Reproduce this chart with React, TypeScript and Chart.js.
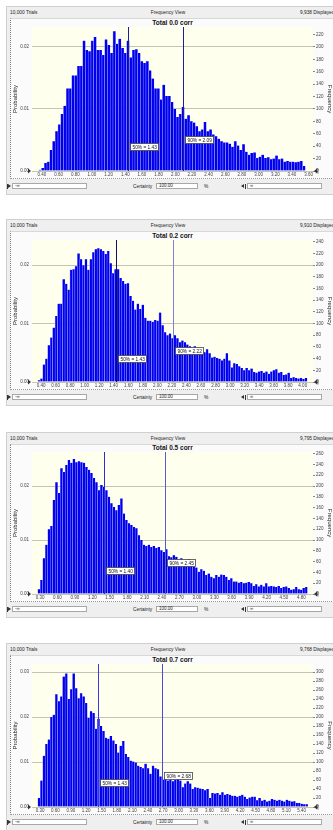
import React, { useEffect, useRef } from "react";
import { Chart, registerables } from "chart.js";

Chart.register(...registerables);
Chart.defaults.font.family = '"Liberation Sans", Arial, sans-serif';

const TRIALS = 10000;

const titles = ["Total 0.0 corr", "Total 0.2 corr", "Total 0.5 corr", "Total 0.7 corr"];
const trialsText = "10,000 Trials";
const viewText = "Frequency View";
const displayedText = ["9,938 Displayed", "9,910 Displayed", "9,795 Displayed", "9,768 Displayed"];

// Frequencies per bin
const freq00 = [
  2, 5, 13, 15, 34, 48, 64, 75, 92, 105,
  133, 133, 154, 154, 169, 169, 210, 195, 193, 210,
  216, 195, 195, 187, 212, 203, 190, 225, 205, 213,
  198, 190, 210, 183, 195, 196, 190, 177, 174, 177,
  162, 149, 133, 133, 115, 139, 121, 121, 111, 100,
  87, 92, 103, 84, 90, 80, 78, 72, 64, 67,
  79, 64, 67, 59, 56, 52, 48, 46, 46, 44,
  39, 48, 41, 34, 43, 31, 26, 29, 30, 21,
  23, 26, 21, 22, 19, 20, 25, 19, 20, 15,
  16, 15, 15, 14, 15, 16, 8,
];
const freq02 = [
  3, 6, 30, 40, 63, 76, 93, 113, 134, 134,
  176, 168, 158, 192, 193, 198, 220, 210, 200, 210,
  192, 210, 222, 227, 229, 227, 224, 219, 224, 203,
  186, 193, 193, 178, 173, 168, 169, 147, 139, 124,
  134, 125, 132, 110, 105, 105, 103, 106, 105, 119,
  97, 85, 80, 83, 75, 80, 75, 68, 71, 68,
  64, 61, 59, 61, 54, 51, 54, 51, 56, 49,
  42, 43, 41, 40, 37, 40, 49, 37, 25, 32,
  31, 27, 24, 20, 24, 20, 23, 17, 16, 18,
  19, 16, 18, 14, 18, 20, 22, 16, 17, 12,
  13, 16, 7, 8, 7, 6, 7, 5, 7,
];
const freq05 = [
  9, 26, 66, 91, 120, 126, 174, 207, 187, 233,
  226, 239, 248, 243, 250, 244, 246, 244, 243, 235,
  230, 224, 215, 207, 192, 202, 198, 192, 180, 168,
  161, 155, 165, 177, 149, 137, 131, 128, 124, 122,
  109, 100, 91, 89, 91, 87, 89, 85, 87, 81,
  78, 83, 70, 68, 72, 69, 63, 66, 60, 61,
  65, 57, 50, 49, 41, 46, 43, 35, 38, 32,
  29, 35, 32, 36, 35, 32, 26, 29, 23, 23,
  21, 22, 20, 21, 22, 20, 15, 18, 14, 17,
  14, 20, 14, 15, 14, 13, 15, 11, 13, 14,
  11, 8, 9, 13, 9, 8, 11, 13,
];
const freq07 = [
  20, 59, 114, 140, 150, 200, 205, 251, 235, 246,
  290, 297, 240, 262, 297, 264, 242, 253, 246, 231,
  198, 213, 209, 174, 196, 180, 169, 154, 152, 158,
  148, 140, 121, 136, 147, 118, 111, 103, 101, 99,
  92, 89, 86, 96, 86, 74, 92, 86, 84, 68,
  61, 66, 59, 61, 57, 60, 63, 59, 44, 52,
  57, 52, 40, 44, 43, 41, 40, 37, 40, 20,
  31, 30, 31, 27, 33, 27, 29, 27, 25, 25,
  23, 25, 27, 23, 18, 21, 23, 23, 15, 20,
  14, 16, 12, 14, 18, 16, 14, 16, 14, 12,
  16, 14, 12, 13, 9, 9, 7, 6, 6,
];
const FREQS = [freq00, freq02, freq05, freq07];

const binStart = [0.36, 0.355, 0.26, 0.256];
const binWidth = [0.033, 0.034, 0.043, 0.0483];

const xTicks00 = [0.4, 0.6, 0.8, 1.0, 1.2, 1.4, 1.6, 1.8, 2.0, 2.2, 2.4, 2.6, 2.8, 3.0, 3.2, 3.4, 3.6];
const xTicks02 = [0.4, 0.6, 0.8, 1.0, 1.2, 1.4, 1.6, 1.8, 2.0, 2.2, 2.4, 2.6, 2.8, 3.0, 3.2, 3.4, 3.6, 3.8, 4.0];
const xTicks05 = [0.3, 0.6, 0.9, 1.2, 1.5, 1.8, 2.1, 2.4, 2.7, 3.0, 3.3, 3.6, 3.9, 4.2, 4.5, 4.8];
const xTicks07 = [0.3, 0.6, 0.9, 1.2, 1.5, 1.8, 2.1, 2.4, 2.7, 3.0, 3.3, 3.6, 3.9, 4.2, 4.5, 4.8, 5.1, 5.4];
const XTICKS = [xTicks00, xTicks02, xTicks05, xTicks07];

const xMin = [0.28, 0.276, 0.162, 0.144];
const xMax = [3.653, 4.141, 5.0, 5.62];
const freqTop = [232, 243, 263, 318];

const probTicks00 = [0, 0.01, 0.02];
const probTicks02 = [0, 0.01, 0.02];
const probTicks05 = [0, 0.01, 0.02];
const probTicks07 = [0, 0.01, 0.02, 0.03];
const PROB_TICKS = [probTicks00, probTicks02, probTicks05, probTicks07];

const median = [1.43, 1.43, 1.4, 1.43];
const pct90 = [2.09, 2.22, 2.45, 2.68];

// layout (pixels)
const frameTop = [6, 219, 432, 643];
const plotTop = [27, 240, 452, 664];
const plotBottom = [171, 382, 594, 807];
const lineColor50 = ["#1c1c9c", "#101060", "#2a2ae0", "#3a3ae0"];
const lineColor90 = ["#1c1c9c", "#8080d8", "#5a5ad0", "#4a4ad8"];

const FONT = '"Liberation Sans", Arial, sans-serif';

function buildChart(canvas: HTMLCanvasElement, i: number) {
  const counts = FREQS[i];
  const points = counts.map((c, k) => ({ x: binStart[i] + (k + 0.5) * binWidth[i], y: c }));
  const decor = {
    id: "decor" + i,
    beforeDraw(chart: any) {
      const { ctx, chartArea: a } = chart;
      ctx.save();
      ctx.fillStyle = "#ffffee";
      ctx.fillRect(a.left, a.top, a.right - a.left, a.bottom - a.top);
      ctx.restore();
    },
    afterDatasetsDraw(chart: any) {
      const { ctx, chartArea: a, scales } = chart;
      const h = a.bottom - a.top;
      const marks = [
        { v: median[i], p: 50, color: lineColor50[i], frac: 0.835 },
        { v: pct90[i], p: 90, color: lineColor90[i], frac: 0.785 },
      ];
      ctx.save();
      marks.forEach((m) => {
        const px = Math.round(scales.x.getPixelForValue(m.v)) + 0.5;
        ctx.strokeStyle = m.color;
        ctx.lineWidth = 1;
        ctx.beginPath();
        ctx.moveTo(px, a.top);
        ctx.lineTo(px, a.bottom);
        ctx.stroke();
      });
      ctx.font = "4.8px " + FONT;
      ctx.textBaseline = "middle";
      ctx.textAlign = "left";
      marks.forEach((m) => {
        const px = scales.x.getPixelForValue(m.v);
        const text = `${m.p}% = ${m.v.toFixed(2)}`;
        const w = Math.round(ctx.measureText(text).width + 4);
        const bx = Math.round(px + 2) + 0.5;
        const cy = Math.round(a.top + h * m.frac);
        ctx.fillStyle = "#ffffff";
        ctx.fillRect(bx, cy - 3.5, w, 7);
        ctx.strokeStyle = "#444";
        ctx.lineWidth = 0.8;
        ctx.strokeRect(bx, cy - 3.5, w, 7);
        ctx.fillStyle = "#111";
        ctx.fillText(text, bx + 2, cy + 0.3);
      });
      ctx.restore();
    },
    afterDraw(chart: any) {
      const { ctx, chartArea: a } = chart;
      const mid = (a.top + a.bottom) / 2;
      ctx.save();
      ctx.fillStyle = "#222";
      ctx.font = "6px " + FONT;
      ctx.textAlign = "center";
      ctx.textBaseline = "middle";
      ctx.save();
      ctx.translate(15, mid);
      ctx.rotate(-Math.PI / 2);
      ctx.fillText("Probability", 0, 0);
      ctx.restore();
      ctx.save();
      ctx.translate(330, mid);
      ctx.rotate(Math.PI / 2);
      ctx.fillText("Frequency", 0, 0);
      ctx.restore();
      // certainty grabbers
      ctx.fillStyle = "#333";
      ctx.beginPath();
      ctx.moveTo(a.left - 4, a.bottom - 2.5);
      ctx.lineTo(a.left - 1, a.bottom);
      ctx.lineTo(a.left - 4, a.bottom + 2.5);
      ctx.closePath();
      ctx.fill();
      ctx.beginPath();
      ctx.moveTo(a.right + 4, a.bottom - 2.5);
      ctx.lineTo(a.right + 1, a.bottom);
      ctx.lineTo(a.right + 4, a.bottom + 2.5);
      ctx.closePath();
      ctx.fill();
      ctx.fillRect(a.right + 4.5, a.bottom - 2.5, 0.8, 5);
      ctx.restore();
    },
  };

  return new Chart(canvas, {
    type: "bar",
    data: {
      datasets: [
        {
          data: points,
          yAxisID: "y1",
          xAxisID: "x",
          backgroundColor: "#0000f0",
          borderColor: "#a0a0f4",
          borderWidth: { left: 0.6, right: 0, top: 0, bottom: 0 },
          barPercentage: 1,
          categoryPercentage: 1,
        },
      ],
    },
    options: {
      responsive: false,
      animation: false,
      devicePixelRatio: 1,
      layout: { padding: { top: 6, left: 0, right: 0, bottom: 0 } },
      plugins: {
        legend: { display: false },
        tooltip: { enabled: false },
        title: { display: false },
      },
      scales: {
        x: {
          type: "linear",
          position: "bottom",
          min: xMin[i],
          max: xMax[i],
          offset: false,
          grid: { display: false, drawTicks: false, offset: false },
          border: { display: false },
          ticks: {
            autoSkip: false,
            maxRotation: 0,
            minRotation: 0,
            padding: 1.5,
            font: { size: 4.5 },
            color: "#444",
            callback: (v: any) => Number(v).toFixed(2),
          },
          afterBuildTicks: (s: any) => {
            s.ticks = XTICKS[i].map((v) => ({ value: v }));
          },
          afterFit: (s: any) => {
            s.height = 10;
          },
        },
        y: {
          position: "left",
          min: 0,
          max: freqTop[i] / TRIALS,
          grid: { color: "#c4c4b4", lineWidth: 1, drawTicks: false },
          border: { display: false },
          ticks: {
            padding: 3,
            font: { size: 4.5 },
            color: "#444",
            callback: (v: any) => Number(v).toFixed(2),
          },
          afterBuildTicks: (s: any) => {
            s.ticks = PROB_TICKS[i].map((v) => ({ value: v }));
          },
          afterFit: (s: any) => {
            s.width = 32;
          },
        },
        y1: {
          position: "right",
          min: 0,
          max: freqTop[i],
          grid: { drawOnChartArea: false, drawTicks: true, tickLength: 2, color: "#888" },
          border: { display: false },
          ticks: {
            stepSize: 20,
            includeBounds: false,
            padding: 1,
            font: { size: 4.5 },
            color: "#444",
          },
          afterFit: (s: any) => {
            s.width = 20;
          },
        },
      },
    } as any,
    plugins: [decor],
  });
}

const abs = (s: any) => ({ position: "absolute", ...s } as any);

function Tri({ x, y, dir }: { x: number; y: number; dir: "left" | "right" }) {
  const st: any = { position: "absolute", left: x, top: y - 2.5, width: 0, height: 0, borderTop: "2.5px solid transparent", borderBottom: "2.5px solid transparent" };
  if (dir === "right") st.borderLeft = "3px solid #333";
  else st.borderRight = "3px solid #333";
  return <div style={st} />;
}

function PanelChrome({ i, canvasRef }: { i: number; canvasRef: any }) {
  const F = frameTop[i];
  const pt = plotTop[i];
  const pb = plotBottom[i];
  const ch = pb - pt + 16;
  const fy = pb + 15; // footer center
  const small = { fontSize: "4.8px", lineHeight: "5px", color: "#222", whiteSpace: "nowrap" };
  const box = { background: "#fff", border: "1px solid #a8a8a8", height: 6, boxSizing: "border-box", fontSize: "4.5px", lineHeight: "4px", paddingLeft: 2, color: "#222" };
  return (
    <>
      <div style={abs({ left: 6, top: F, width: 345, height: pb + 23.5 - F, background: "#efefef", border: "1px solid #cfcfcf", boxSizing: "border-box" })} />
      <div style={abs({ left: 10, top: F + 4, ...small })}>{trialsText}</div>
      <div style={abs({ left: 140, width: 56, textAlign: "center", top: F + 4, ...small })}>{viewText}</div>
      <div style={abs({ left: 300, top: F + 4, ...small })}>{displayedText[i]}</div>
      <div style={abs({ left: 10, top: F + 12, width: 340, height: pb + 8 - (F + 12), background: "#fbfbfb", borderLeft: "1px dotted #777", borderTop: "1px solid #d8d8d8", borderBottom: "1px dotted #999", boxSizing: "border-box" })} />
      <div style={abs({ left: 112, width: 121, textAlign: "center", top: pt - 8, fontSize: "6.5px", lineHeight: "7px", fontWeight: "bold", color: "#111" })}>{titles[i]}</div>
      <canvas ref={canvasRef} width={333} height={ch} style={abs({ left: 0, top: pt - 6, width: 333, height: ch })} />
      <div style={abs({ left: 7, top: fy - 2.5, width: 0.8, height: 5, background: "#333" })} />
      <Tri x={8} y={fy} dir="right" />
      <div style={abs({ left: 12, top: fy - 3, width: 75, ...box })}>-∞</div>
      <div style={abs({ left: 133, top: fy - 2.5, ...small })}>Certainty</div>
      <div style={abs({ left: 156, top: fy - 3, width: 42, ...box })}>100.00</div>
      <div style={abs({ left: 204, top: fy - 2.5, ...small })}>%</div>
      <Tri x={241} y={fy} dir="left" />
      <div style={abs({ left: 244.5, top: fy - 2.5, width: 0.8, height: 5, background: "#333" })} />
      <div style={abs({ left: 247, top: fy - 3, width: 75, ...box })}>∞</div>
    </>
  );
}

export default function App() {
  const r0 = useRef<HTMLCanvasElement | null>(null);
  const r1 = useRef<HTMLCanvasElement | null>(null);
  const r2 = useRef<HTMLCanvasElement | null>(null);
  const r3 = useRef<HTMLCanvasElement | null>(null);
  const refs = [r0, r1, r2, r3];

  useEffect(() => {
    const charts = refs.map((r, i) => (r.current ? buildChart(r.current, i) : null));
    return () => {
      charts.forEach((c) => c && c.destroy());
    };
  }, []);

  return (
    <div style={abs({ left: 0, top: 0, width: 333, height: 830, overflow: "hidden", background: "#ffffff", fontFamily: FONT })}>
      {titles.map((t, i) => (
        <PanelChrome key={t} i={i} canvasRef={refs[i]} />
      ))}
    </div>
  );
}
